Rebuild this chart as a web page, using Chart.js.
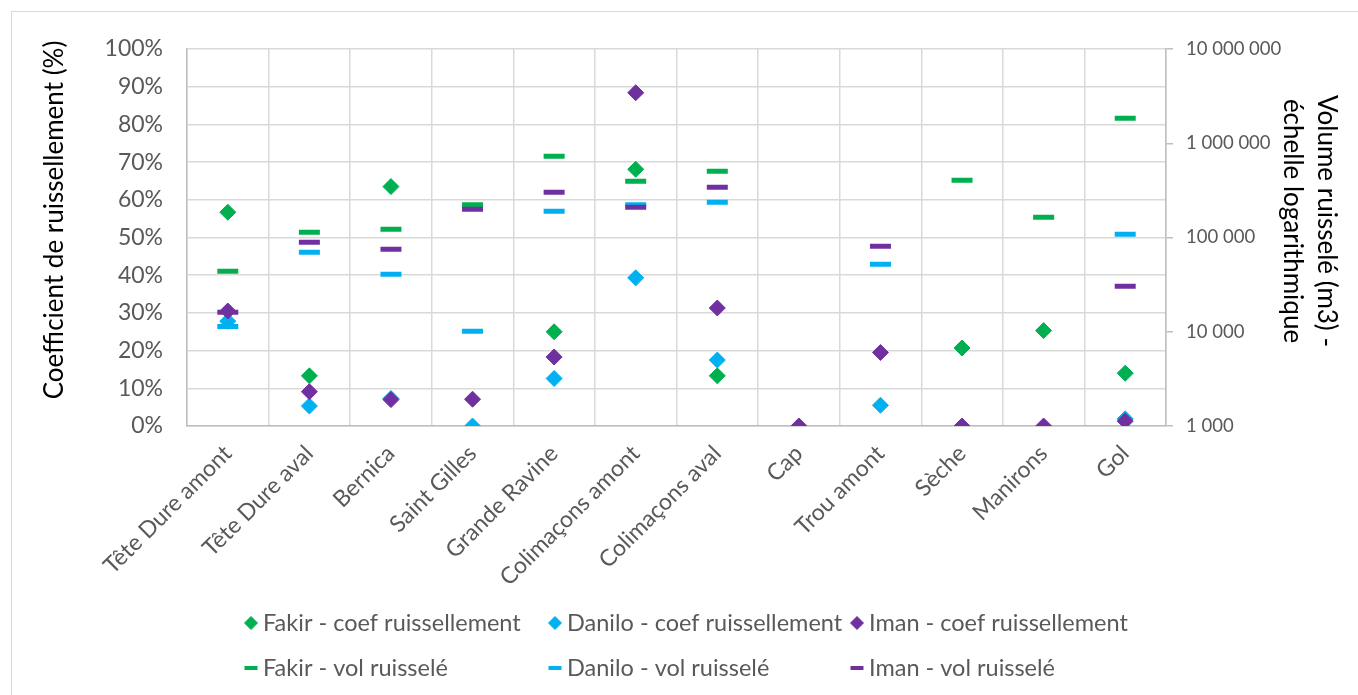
<!DOCTYPE html>
<html lang="fr">
<head>
<meta charset="utf-8">
<title>Coefficient et volume ruisselés par bassin</title>
<script src="https://cdn.jsdelivr.net/npm/chart.js@4.4.1/dist/chart.umd.min.js"></script>
<style>
  html, body { margin: 0; padding: 0; background: #ffffff; }
  #wrap { position: relative; width: 1358px; height: 695px; overflow: hidden; }
  #frame { position: absolute; left: 11px; top: 11px; width: 1400px; height: 800px;
           border-left: 1px solid #d9d9d9; border-top: 1px solid #d9d9d9; pointer-events: none; }
  canvas { position: absolute; left: 0; top: 0; }
</style>
</head>
<body>
<div id="wrap">
  <canvas id="c" width="1358" height="695"></canvas>
  <div id="frame"></div>
</div>
<script>
// Bassins versants
const categories = ['Tête Dure amont', 'Tête Dure aval', 'Bernica', 'Saint Gilles', 'Grande Ravine',
  'Colimaçons amont', 'Colimaçons aval', 'Cap', 'Trou amont', 'Sèche', 'Manirons', 'Gol'];

// Coefficient de ruissellement (%) par événement
const fakirCoef  = [56.7, 13.3, 63.5, null, 25.0, 68.1, 13.3, null, null, 20.7, 25.3, 14.0];
const daniloCoef = [27.8, 5.3, 7.3, 0, 12.6, 39.3, 17.5, null, 5.5, null, null, 1.9];
const imanCoef   = [30.5, 9.1, 7.0, 7.1, 18.3, 88.4, 31.3, 0, 19.5, 0, 0, 1.3];

// Volume ruisselé (m3) par événement
const fakirVol  = [43800, 113500, 122000, 223000, 727000, 395000, 504000, null, null, 404000, 164000, 1840000];
const daniloVol = [11400, 69700, 40700, 10100, 190000, 222000, 236000, null, 52000, null, null, 108000];
const imanVol   = [16100, 89000, 75000, 199000, 302000, 209000, 341000, null, 80700, null, null, 30300];

// Graduations
const coefTicks = [0, 10, 20, 30, 40, 50, 60, 70, 80, 90, 100];
const volTicks  = [1000, 10000, 100000, 1000000, 10000000];

const GREEN = '#00b050', BLUE = '#00b0f0', PURPLE = '#7030a0';
const GRID = '#d9d9d9', TEXT = '#595959';
const FONT = 'Lato, "Open Sans", sans-serif';
const TICK_SIZE = 23;

const coefSet = (label, data, color, i) => ({
  label, data, yAxisID: 'y', showLine: false,
  pointStyle: 'rectRot', pointRadius: 8, pointHoverRadius: 8, pointBorderWidth: 1,
  backgroundColor: color, borderColor: color, order: 5 - i
});
const volSet = (label, data, color, i) => ({
  label, data, yAxisID: 'y1', showLine: false,
  pointStyle: 'line', pointRadius: 10.5, pointHoverRadius: 10.5, pointBorderWidth: 5,
  backgroundColor: color, borderColor: color, order: 5 - i
});

const datasets = [
  coefSet('Fakir - coef ruissellement', fakirCoef, GREEN, 0),
  coefSet('Danilo - coef ruissellement', daniloCoef, BLUE, 1),
  coefSet('Iman - coef ruissellement', imanCoef, PURPLE, 2),
  volSet('Fakir - vol ruisselé', fakirVol, GREEN, 3),
  volSet('Danilo - vol ruisselé', daniloVol, BLUE, 4),
  volSet('Iman - vol ruisselé', imanVol, PURPLE, 5)
];

// groupes de milliers séparés par une espace
const spaced = v => String(v).replace(/\B(?=(\d{3})+(?!\d))/g, ' ');

// Titres d'axes et légende en grille 3 x 2
const decor = {
  id: 'decor',
  afterDraw(chart) {
    const ctx = chart.ctx;
    ctx.save();
    ctx.fillStyle = '#000000';
    ctx.font = '26px ' + FONT;
    ctx.textAlign = 'center';
    ctx.textBaseline = 'alphabetic';
    ctx.save();
    ctx.translate(63, 220);
    ctx.rotate(-Math.PI / 2);
    ctx.fillText('Coefficient de ruissellement (%)', 0, 0);
    ctx.restore();
    ctx.save();
    ctx.translate(1302, 221);
    ctx.rotate(Math.PI / 2);
    ctx.fillText('Volume ruisselé (m3) -', 0, -16);
    ctx.fillText('échelle logarithmique', 0, 18);
    ctx.restore();

    const colX = [251, 555, 857];
    const rowY = [623, 668];
    ctx.font = '23.5px ' + FONT;
    ctx.textAlign = 'left';
    ctx.textBaseline = 'middle';
    chart.data.datasets.forEach((ds, i) => {
      const col = i % 3, row = Math.floor(i / 3);
      const x = colX[col], y = rowY[row];
      ctx.fillStyle = ds.backgroundColor;
      ctx.strokeStyle = ds.borderColor;
      if (ds.pointStyle === 'rectRot') {
        ctx.lineWidth = 1;
        Chart.helpers.drawPoint(ctx, { pointStyle: 'rectRot', radius: 6.5, rotation: 0, borderWidth: 1 }, x, y);
      } else {
        ctx.lineWidth = 4;
        Chart.helpers.drawPoint(ctx, { pointStyle: 'line', radius: 6.5, rotation: 0, borderWidth: 4 }, x, y);
      }
      ctx.fillStyle = TEXT;
      ctx.fillText(ds.label, x + 12, y);
    });
    ctx.restore();
  }
};

new Chart(document.getElementById('c'), {
  type: 'line',
  data: { labels: categories, datasets },
  plugins: [decor],
  options: {
    responsive: false,
    animation: false,
    events: [],
    layout: { padding: { top: 49, left: 0, right: 0, bottom: 0 } },
    plugins: { legend: { display: false }, tooltip: { enabled: false } },
    scales: {
      x: {
        type: 'category',
        offset: true,
        grid: { offset: true, color: GRID, lineWidth: 1.5, drawTicks: false },
        border: { color: '#bfbfbf', width: 1.5 },
        ticks: { color: TEXT, font: { family: FONT, size: TICK_SIZE }, minRotation: 45, maxRotation: 45, padding: 14, autoSkip: false },
        afterFit(s) { s.height = 695 - 426; }
      },
      y: {
        position: 'left',
        min: 0, max: 100,
        grid: { color: GRID, lineWidth: 1.5, drawTicks: false },
        border: { color: '#bfbfbf', width: 1.5 },
        ticks: { color: TEXT, font: { family: FONT, size: TICK_SIZE }, padding: 24, callback: v => v + '%' },
        afterBuildTicks(s) { s.ticks = coefTicks.map(v => ({ value: v })); },
        afterFit(s) { s.width = 187; }
      },
      y1: {
        type: 'logarithmic',
        position: 'right',
        min: volTicks[0], max: volTicks[volTicks.length - 1],
        grid: { drawOnChartArea: false, color: '#bfbfbf', lineWidth: 1.5, tickLength: 7 },
        border: { color: '#bfbfbf', width: 1.5 },
        ticks: { color: TEXT, font: { family: FONT, size: 18.5 }, padding: 13, callback: v => spaced(v) },
        afterBuildTicks(s) { s.ticks = volTicks.map(v => ({ value: v })); },
        afterFit(s) { s.width = 1358 - 1166; }
      }
    }
  }
});
</script>
</body>
</html>
